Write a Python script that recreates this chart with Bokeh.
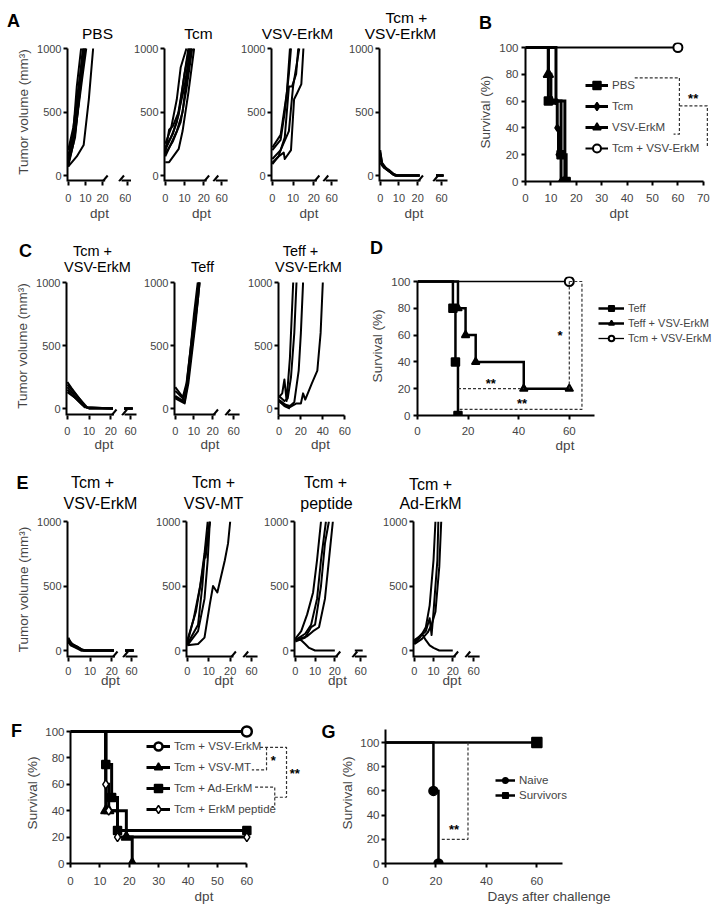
import math
from bokeh.plotting import figure
from bokeh.layouts import row, column
from bokeh.models import Range1d, FixedTicker, Legend, LegendItem, LinearAxis
from bokeh.core.properties import value
from bokeh.embed import file_html
from bokeh.resources import INLINE

FONT = "Liberation Sans"

# ---------------- DATA ----------------
# Panel A: tumour volume (mm3) per mouse vs dpt
A_PBS_days = [[0, 5, 9, 12, 14.5], [0, 3, 6, 8, 10], [0, 3, 6, 8.5], [0, 3, 5, 7.5], [0, 3, 6, 9], [0, 4, 7, 9.5], [0, 4, 8, 10.5]]
A_PBS_vol = [[70, 150, 240, 600, 1000], [70, 250, 560, 800, 1000], [100, 300, 650, 1000], [150, 350, 700, 1000], [200, 380, 700, 1000], [90, 300, 700, 1000], [120, 330, 750, 1000]]
A_Tcm_days = [[0, 2, 7, 9, 12, 15], [0, 2, 4, 7, 10, 13], [0, 3, 6, 9, 11, 13.5], [0, 3, 6, 9, 12], [0, 4, 7, 10, 12.5], [0, 3, 6, 8, 11], [0, 4, 8, 11, 14]]
A_Tcm_vol = [[105, 105, 210, 350, 650, 1000], [180, 360, 390, 500, 700, 1000], [150, 250, 350, 500, 750, 1000], [200, 300, 420, 700, 1000], [220, 330, 480, 800, 1000], [250, 370, 600, 850, 1000], [170, 270, 420, 680, 1000]]
A_VSV_days = [[0, 4, 7, 8.5], [0, 4, 6, 8, 9], [0, 3, 6, 8, 9.5, 11.5, 12.5], [0, 3, 5.5, 6, 9, 10.5, 12, 14, 15], [0, 4, 8, 10, 13]]
A_VSV_vol = [[220, 320, 650, 1000], [200, 280, 500, 800, 1000], [90, 150, 300, 700, 700, 800, 1000], [100, 150, 180, 130, 200, 600, 650, 720, 1000], [130, 200, 350, 700, 1000]]
A_TcmVSV_days = [[0, 1, 3, 5, 7, 9, 21, 57, 61], [0, 1, 3, 6, 8, 21, 57, 61], [0, 2, 4, 6, 8, 21, 57, 61], [0, 1, 3, 5, 7, 8, 21, 57, 61], [0, 2, 4, 7, 9, 21, 57, 61]]
A_TcmVSV_vol = [[200, 90, 60, 40, 15, 0, 0, 0, 0], [160, 80, 50, 20, 0, 0, 0, 0], [120, 70, 40, 20, 0, 0, 0, 0], [180, 100, 60, 30, 5, 0, 0, 0, 0], [100, 60, 45, 10, 0, 0, 0, 0]]

# Panel B: survival (%)
B_PBS_t, B_PBS_s = [0, 9, 14, 16], [100, 60, 20, 0]
B_Tcm_t, B_Tcm_s = [0, 12, 12.5, 13, 14], [100, 60, 40, 20, 0]
B_VSV_t, B_VSV_s = [0, 9, 10, 15.5], [100, 80, 60, 0]
B_TcmVSV_t, B_TcmVSV_s = [0, 60], [100, 100]

# Panel C: tumour volume
C_TcmVSV_days = [[0, 2, 5, 8, 10, 21, 57, 61], [0, 3, 6, 9, 21, 57, 61], [0, 2, 5, 8, 21, 57, 61], [0, 3, 6, 9, 21, 57, 61], [0, 4, 7, 10, 21, 57, 61]]
C_TcmVSV_vol = [[210, 160, 90, 20, 0, 0, 0, 0], [170, 110, 50, 5, 0, 0, 0], [150, 110, 60, 10, 0, 0, 0], [190, 130, 70, 10, 0, 0, 0], [130, 80, 30, 0, 0, 0, 0]]
C_Teff_days = [[0, 4, 6, 8, 10, 12.5], [0, 4, 6, 8, 10, 12], [0, 5, 7, 9, 11, 13], [0, 4, 6, 9, 11, 12.5], [0, 5, 7, 9, 12, 13]]
C_Teff_vol = [[170, 90, 200, 450, 700, 1000], [100, 60, 180, 450, 750, 1000], [80, 40, 200, 450, 700, 1000], [140, 80, 150, 500, 800, 1000], [90, 50, 250, 500, 850, 1000]]
C_TeffVSV_days = [[0, 3, 5, 7, 10, 13], [0, 5, 8, 11, 14, 16], [0, 6, 10, 14, 18, 20, 22], [0, 6, 10, 16, 20, 22, 24, 30, 35, 38, 40], [0, 5, 10, 60]]
C_TeffVSV_vol = [[90, 120, 230, 60, 400, 1000], [100, 60, 80, 250, 600, 1000], [70, 30, 20, 50, 300, 600, 1000], [60, 20, 10, 40, 40, 120, 70, 200, 300, 600, 1000], [60, 20, 0, 0]]

# Panel D: survival (%)
D_Teff_t, D_Teff_s = [0, 14, 15, 16], [100, 80, 40, 0]
D_TeffVSV_t, D_TeffVSV_s = [0, 16, 19, 23, 42, 60], [100, 80, 60, 40, 20, 20]
D_TcmVSV_t, D_TcmVSV_s = [0, 60], [100, 100]

# Panel E: tumour volume
E_TcmVSV_days = [[0, 1, 3, 5, 7, 21, 57, 61], [0, 1, 3, 5, 7, 21, 57, 61], [0, 2, 4, 6, 21, 57, 61], [0, 2, 4, 6, 8, 21, 57, 61], [0, 1, 3, 6, 21, 57, 61]]
E_TcmVSV_vol = [[100, 60, 40, 20, 0, 0, 0, 0], [80, 50, 30, 15, 0, 0, 0, 0], [60, 40, 30, 0, 0, 0, 0], [90, 45, 30, 10, 0, 0, 0, 0], [70, 40, 25, 0, 0, 0, 0]]
E_MT_days = [[0, 4, 7, 9, 10.5], [0, 3, 6, 8, 9.5], [0, 5, 7, 8, 8.5, 10.5], [0, 5, 8, 9.5, 10.5], [0, 5, 8, 10.5, 12, 14, 17.5, 19, 20]]
E_MT_vol = [[80, 300, 600, 850, 1000], [60, 250, 500, 750, 1000], [50, 200, 500, 720, 720, 1000], [40, 150, 400, 700, 1000], [40, 50, 100, 360, 500, 450, 700, 830, 1000]]
E_pep_days = [[0, 3, 6, 9, 11, 13], [0, 5, 8, 11, 13, 15.5], [0, 5, 8, 10, 13, 15, 17], [0, 6, 9, 12, 15, 17, 19], [0, 3, 5, 7, 10, 20, 57, 61]]
E_pep_vol = [[90, 150, 280, 450, 700, 1000], [80, 130, 200, 400, 700, 1000], [70, 100, 180, 200, 500, 830, 1000], [80, 110, 150, 180, 400, 700, 1000], [90, 80, 50, 20, 0, 0, 0, 0]]
E_Ad_days = [[0, 3, 6, 8, 10, 11], [0, 3, 6, 8, 9, 10, 12, 12.5], [0, 4, 7, 9, 11, 13, 14], [0, 2, 4, 6, 8, 10, 13, 20]]
E_Ad_vol = [[60, 100, 180, 350, 700, 1000], [80, 110, 150, 250, 120, 300, 700, 1000], [50, 90, 140, 200, 300, 650, 1000], [70, 100, 130, 80, 40, 20, 0, 0]]

# Panel F: survival (%)
F_VSV_t, F_VSV_s = [0, 60], [100, 100]
F_MT_t, F_MT_s = [0, 12, 13, 19, 21], [100, 40, 40, 20, 0]
F_Ad_t, F_Ad_s = [0, 12, 14, 16, 60], [100, 75, 50, 25, 25]
F_pep_t, F_pep_s = [0, 12, 13, 16, 60], [100, 60, 40, 20, 20]

# Panel G: survival (%) after challenge
G_naive_t, G_naive_s = [0, 19, 21], [100, 60, 0]
G_surv_t, G_surv_s = [0, 60], [100, 100]


# ---------------- HELPERS ----------------
def style_axis(ax, standoff=3, lab_standoff=3, fs="11px"):
    ax.axis_line_width = 2
    ax.major_tick_line_width = 2
    ax.major_tick_out = 4
    ax.major_tick_in = 0
    ax.minor_tick_line_color = None
    ax.major_label_text_font = FONT
    ax.major_label_text_font_size = fs
    ax.major_label_standoff = int(round(standoff))
    ax.axis_label_text_font = FONT
    ax.axis_label_text_font_size = "13.5px"
    ax.axis_label_text_font_style = "normal"
    ax.axis_label_standoff = int(round(lab_standoff))


def base_fig(fig_l, fig_r, frame_l, row_t, row_b, frame_t, frame_b, xr, yr):
    p = figure(width=fig_r - fig_l, height=row_b - row_t, x_range=Range1d(*xr), y_range=Range1d(*yr),
               x_axis_type=None, y_axis_type=None, title=None, output_backend="svg", toolbar_location=None,
               min_border_left=frame_l - fig_l, min_border_right=0,
               min_border_top=frame_t - row_t, min_border_bottom=row_b - frame_b)
    p.outline_line_color = None
    p.background_fill_color = "white"
    p.border_fill_color = "white"
    return p


def put_text(p, x, y, text, size, bold=False, align="center"):
    p.text(x=[x], y=[y], text=[text], text_font=value(FONT), text_font_size=value(size),
           text_font_style=value("bold" if bold else "normal"), text_align=align,
           text_baseline="middle", text_color="black")


def strip(top, bottom, texts, width=712):
    # a blank canvas whose data coordinates are page pixels; holds panel letters and titles
    p = figure(width=width, height=bottom - top, x_range=Range1d(0, width), y_range=Range1d(bottom, top),
               x_axis_type=None, y_axis_type=None, title=None, output_backend="svg", toolbar_location=None,
               min_border_left=0, min_border_right=0, min_border_top=0, min_border_bottom=0)
    p.outline_line_color = None
    for xpx, ypx, text, size, bold in texts:
        put_text(p, xpx, ypx, text, size, bold)
    return p


def break_xy(days, vals, c60):
    xs, ys = [], []
    prev = None
    for dd, v in zip(days, vals):
        if prev is not None and prev <= 40 < dd:
            xs.append(float("nan"))
            ys.append(float("nan"))
        xs.append(dd if dd <= 40 else c60 + (dd - 60))
        ys.append(v)
        prev = dd
    return xs, ys


def spaghetti(fig_l, fig_r, frame_l, row_t, row_b, frame_t, k1000, zero, axis_y, ppd, c60_px,
              days, vols, so, aso, ylabel=None, full=False):
    s = (zero - k1000) / 1000.0
    yax = -(axis_y - zero) / s
    y_end = 1000 + (k1000 - frame_t) / s
    x0 = -0.4
    x1 = x0 + (fig_r - frame_l) / ppd
    p = base_fig(fig_l, fig_r, frame_l, row_t, row_b, frame_t, axis_y, (x0, x1), (yax, y_end))
    if full:
        c60 = 60
        xa = LinearAxis(bounds=(x0, 60), ticker=FixedTicker(ticks=[0, 20, 40, 60]), axis_label="dpt")
        style_axis(xa, so, aso)
    else:
        c60 = round(x0 + (c60_px - frame_l) / ppd, 3)
        xa = LinearAxis(ticker=FixedTicker(ticks=[0, 10, 20, c60]),
                        major_label_overrides={c60: "60"}, axis_label="dpt")
        style_axis(xa, so, aso)
        xa.axis_line_color = None
        b1 = 21.5
        dx = 2.5 / ppd
        dy = 6.0 / s
        kw = dict(line_width=4, color="black")
        p.line([x0, b1], [yax, yax], **kw)
        p.line([b1 - dx, b1 + dx], [yax, yax + dy], line_width=2, color="black")
        s2 = c60 - 6.0 / ppd
        e2 = c60 + 6.0 / ppd
        p.line([s2, e2], [yax, yax], **kw)
        p.line([s2 - dx, s2 + dx], [yax, yax + dy], line_width=2, color="black")
    p.add_layout(xa, "below")
    ya = LinearAxis(bounds=(yax, 1000), ticker=FixedTicker(ticks=[0, 500, 1000]), axis_label=ylabel)
    style_axis(ya, 2, 3)
    p.add_layout(ya, "left")
    for dd, v in zip(days, vols):
        xs, ys = break_xy(dd, v, c60)
        p.line(xs, ys, line_width=2, color="black", line_join="round")
    return p


def km(fig_l, fig_r, frame_l, row_t, row_b, frame_t, y100, zero, ppx, xticks, xbound, so, aso,
       xlabel="dpt", ybound=100, yso=3, yaso=3):
    sy = (zero - y100) / 100.0
    y_end = 100 + (y100 - frame_t) / sy
    x_end = (fig_r - frame_l) / ppx
    p = base_fig(fig_l, fig_r, frame_l, row_t, row_b, frame_t, zero, (0, x_end), (0, y_end))
    xa = LinearAxis(bounds=(0, xbound), ticker=FixedTicker(ticks=xticks), axis_label=xlabel)
    style_axis(xa, so, aso, "11.5px")
    p.add_layout(xa, "below")
    ya = LinearAxis(bounds=(0, ybound), ticker=FixedTicker(ticks=[0, 20, 40, 60, 80, 100]),
                    axis_label="Survival (%)")
    style_axis(ya, yso, yaso, "11.5px")
    p.add_layout(ya, "left")
    return p, ppx, sy


def series(p, t, s, marker, size, lw=3, fill="black", mline=1.5):
    r1 = p.step(t, s, mode="after", line_width=lw, color="black", line_join="miter")
    r2 = p.scatter(t[1:], s[1:], marker=marker, size=size, fill_color=fill, line_color="black", line_width=mline)
    return [r1, r2]


def dashed(p, xs, ys):
    p.line(xs, ys, line_width=1.2, color="#333333", line_dash="3 2")


def legend(p, items, loc, gw, gh, fs="11.5px"):
    lg = Legend(items=[LegendItem(label=l, renderers=r) for l, r in items], location=loc, padding=0, margin=0,
                spacing=1, glyph_width=gw, glyph_height=gh, label_height=gh, label_standoff=4,
                label_text_font=FONT, label_text_font_size=fs, border_line_color=None,
                background_fill_alpha=0)
    p.add_layout(lg, "center")


# ---------------- ROW 1: A + B ----------------
T1 = "15.5px"
S1 = strip(0, 42, [(13, 20, "A", "18px", True), (97, 33, "PBS", T1, False), (198, 33, "Tcm", T1, False),
                   (297, 33, "VSV-ErkM", T1, False), (406, 17, "Tcm +", T1, False),
                   (400, 33, "VSV-ErkM", T1, False), (485, 22, "B", "18px", True)])
R1T, R1B, F1T, F1B = 42, 232, 42, 181
a1 = spaghetti(0, 131, 67, R1T, R1B, F1T, 48, 175, F1B, 1.72, 127, A_PBS_days, A_PBS_vol, 8, 1, ylabel="Tumor volume (mm³)")
a2 = spaghetti(131, 238, 163, R1T, R1B, F1T, 48, 175, F1B, 1.95, 221, A_Tcm_days, A_Tcm_vol, 8, 1)
a3 = spaghetti(238, 346, 270, R1T, R1B, F1T, 48, 175, F1B, 2.1, 331, A_VSV_days, A_VSV_vol, 8, 1)
a4 = spaghetti(346, 448, 378, R1T, R1B, F1T, 48, 175, F1B, 1.9, 441, A_TcmVSV_days, A_TcmVSV_vol, 8, 1)

b, _, _ = km(448, 712, 525, R1T, R1B, F1T, 47, F1B, 2.54, [0, 10, 20, 30, 40, 50, 60, 70], 70, 8, 1)
rb1 = series(b, B_PBS_t, B_PBS_s, "square", 8)
rb2 = series(b, B_Tcm_t, B_Tcm_s, "diamond", 7)
rb3 = series(b, B_VSV_t, B_VSV_s, "triangle", 10)
rb4 = series(b, B_TcmVSV_t, B_TcmVSV_s, "circle", 9, lw=2, fill="white", mline=2)
dashed(b, [43, 60.6, 60.6, 58.3], [77.4, 77.4, 35.3, 35.3])
dashed(b, [60.6, 71.6, 71.6], [56.4, 56.4, 26.3])
put_text(b, 66, 62, "**", "13px", True)
legend(b, [("PBS", rb1), ("Tcm", rb2), ("VSV-ErkM", rb3), ("Tcm + VSV-ErkM", rb4)], (60, 23), 23, 20)

# ---------------- ROW 2: C + D ----------------
T2 = "14.5px"
S2 = strip(232, 276, [(25, 250, "C", "18px", True), (92, 250, "Tcm +", T2, False),
                      (97, 266, "VSV-ErkM", T2, False), (202, 266, "Teff", T2, False),
                      (300, 250, "Teff +", T2, False), (308, 266, "VSV-ErkM", T2, False),
                      (376, 247, "D", "18px", True)])
R2T, R2B, F2T, F2B = 276, 466, 276, 415
c1 = spaghetti(0, 141, 66, R2T, R2B, F2T, 282, 408, F2B, 2.17, 130, C_TcmVSV_days, C_TcmVSV_vol, 7, -1, ylabel="Tumor volume (mm³)")
c2 = spaghetti(141, 245, 173, R2T, R2B, F2T, 282, 408, F2B, 1.9, 233, C_Teff_days, C_Teff_vol, 7, -1)
c3 = spaghetti(245, 362, 277, R2T, R2B, F2T, 282, 408, F2B, 1.11, 0, C_TeffVSV_days, C_TeffVSV_vol, 7, -1, full=True)

d, _, _ = km(362, 712, 417, R2T, R2B, F2T, 281, F2B, 2.53, [0, 20, 40, 60], 70, 7, 0)
rd1 = series(d, D_Teff_t, D_Teff_s, "square", 8, lw=2.5)
rd2 = series(d, D_TeffVSV_t, D_TeffVSV_s, "triangle", 8, lw=2.5)
rd3 = series(d, D_TcmVSV_t, D_TcmVSV_s, "circle", 9, lw=1.3, fill="white", mline=2)
dashed(d, [60, 60], [100, 20])
dashed(d, [16, 42], [20, 20])
dashed(d, [60, 65, 65, 16], [100, 100, 4.5, 4.5])
put_text(d, 56.3, 60, "*", "13px", True)
put_text(d, 29, 24, "**", "13px", True)
put_text(d, 41.3, 9, "**", "13px", True)
legend(d, [("Teff", rd1), ("Teff + VSV-ErkM", rd2), ("Tcm + VSV-ErkM", rd3)], (181, 70), 26, 14, "11px")

# ---------------- ROW 3: E ----------------
T3 = "16px"
S3 = strip(466, 514, [(22, 482, "E", "18px", True), (92, 482, "Tcm +", T3, False),
                      (100, 503, "VSV-ErkM", T3, False), (213, 482, "Tcm +", T3, False),
                      (213, 503, "VSV-MT", T3, False), (325, 482, "Tcm +", T3, False),
                      (326, 503, "peptide", T3, False), (430, 484, "Tcm +", T3, False),
                      (430, 503, "Ad-ErkM", T3, False)])
R3T, R3B, F3T, F3B = 514, 702, 521, 657
e1 = spaghetti(0, 153, 67, R3T, R3B, F3T, 521, 650, F3B, 2.17, 131, E_TcmVSV_days, E_TcmVSV_vol, 5, -5, ylabel="Tumor volume (mm³)")
e2 = spaghetti(153, 261, 185, R3T, R3B, F3T, 521, 650, F3B, 2.17, 251, E_MT_days, E_MT_vol, 5, -5)
e3 = spaghetti(261, 380, 293, R3T, R3B, F3T, 521, 650, F3B, 2.0, 360, E_pep_days, E_pep_vol, 5, -5)
e4 = spaghetti(380, 490, 412, R3T, R3B, F3T, 521, 650, F3B, 1.95, 473, E_Ad_days, E_Ad_vol, 5, -5)

# ---------------- ROW 4: F + G ----------------
R4T, R4B, F4T, F4B = 702, 916, 722, 863
lf = figure(width=22, height=R4B - R4T, x_range=Range1d(0, 22), y_range=Range1d(F4B, F4T),
            x_axis_type=None, y_axis_type=None, title=None, output_backend="svg", toolbar_location=None,
            min_border_left=0, min_border_right=0, min_border_top=F4T - R4T, min_border_bottom=R4B - F4B)
lf.outline_line_color = None
put_text(lf, 16, 730, "F", "18px", True)

f, fpx, fsy = km(22, 337, 67, R4T, R4B, F4T, 731, F4B, 2.972, [0, 10, 20, 30, 40, 50, 60], 60, 9, 1, yso=2, yaso=2)
rf1 = series(f, F_VSV_t, F_VSV_s, "circle", 10, lw=3, fill="white", mline=2.5)
rf2 = series(f, F_MT_t, F_MT_s, "triangle", 10)
rf3 = series(f, F_Ad_t, F_Ad_s, "square", 8)
rf4 = series(f, F_pep_t, F_pep_s, "diamond", 9, fill="white", mline=1.5)
dashed(f, [64.5, 73.5, 73.5, 69.5], [88, 88, 50.2, 50.2])
dashed(f, [66.7, 66.7, 61.7], [88, 70.9, 70.9])
dashed(f, [62.8, 69.5, 69.5, 68.4], [57.8, 57.8, 43.2, 43.2])
put_text(f, 69.0, 78.1, "*", "13px", True)
put_text(f, 76.3, 67.9, "**", "13px", True)
# panel letter G sits left of G's axis, inside F's (blank) frame extension
put_text(f, (328 - 67) / fpx, (F4B - 731) / fsy, "G", "18px", True)
legend(f, [("Tcm + VSV-ErkM", rf1), ("Tcm + VSV-MT", rf2), ("Tcm + Ad-ErkM", rf3), ("Tcm + ErkM peptide", rf4)], (76, 44), 24, 20)

g, _, _ = km(337, 712, 383, R4T, R4B, F4T, 742, F4B, 2.538, [0, 20, 40, 60], 70, 9, 1,
             xlabel="Days after challenge", ybound=111, yso=2, yaso=2)
rg1 = series(g, G_naive_t, G_naive_s, "circle", 9, lw=2.5)
rg2 = series(g, G_surv_t, G_surv_s, "square", 10, lw=2.5)
dashed(g, [32.7, 32.7, 21.9], [100, 20, 20])
put_text(g, 27.2, 28, "**", "13px", True)
legend(g, [("Naive", rg1), ("Survivors", rg2)], (110, 61), 20, 14)

layout = column(S1, row(a1, a2, a3, a4, b), S2, row(c1, c2, c3, d), S3, row(e1, e2, e3, e4), row(lf, f, g))
open("out.html", "w").write(file_html(layout, INLINE))
